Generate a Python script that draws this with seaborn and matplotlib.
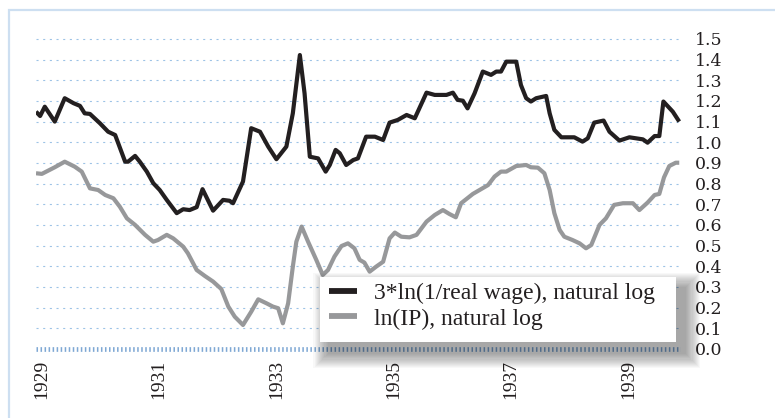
import numpy as np
import pandas as pd
import matplotlib
matplotlib.use("Agg")
import matplotlib.pyplot as plt
import seaborn as sns
from matplotlib.patches import Rectangle

# ---- data ----
wage_t = [1929.00, 1929.07, 1929.15, 1929.32, 1929.49, 1929.64, 1929.75, 1929.83, 1929.92,
          1930.09, 1930.23, 1930.35, 1930.52, 1930.57, 1930.69, 1930.77, 1930.89, 1931.00,
          1931.11, 1931.23, 1931.40, 1931.51, 1931.62, 1931.74, 1931.84, 1932.02, 1932.19,
          1932.30, 1932.36, 1932.53, 1932.67, 1932.82, 1932.96, 1933.10, 1933.27, 1933.38,
          1933.50, 1933.58, 1933.67, 1933.81, 1933.94, 1934.01, 1934.11, 1934.18, 1934.29,
          1934.41, 1934.49, 1934.63, 1934.78, 1934.92, 1935.03, 1935.17, 1935.32, 1935.46,
          1935.66, 1935.80, 1936.00, 1936.11, 1936.19, 1936.28, 1936.36, 1936.48, 1936.62,
          1936.76, 1936.85, 1936.93, 1937.02, 1937.19, 1937.27, 1937.36, 1937.44, 1937.53,
          1937.70, 1937.76, 1937.84, 1937.96, 1938.18, 1938.32, 1938.41, 1938.52, 1938.68,
          1938.78, 1938.95, 1939.12, 1939.35, 1939.43, 1939.55, 1939.63, 1939.70, 1939.86,
          1939.97]
wage_v = [1.148, 1.127, 1.172, 1.100, 1.213, 1.189, 1.176, 1.140, 1.137,
          1.092, 1.051, 1.035, 0.906, 0.906, 0.934, 0.906, 0.858, 0.802,
          0.769, 0.721, 0.657, 0.676, 0.672, 0.686, 0.773, 0.669, 0.721,
          0.717, 0.705, 0.810, 1.068, 1.051, 0.979, 0.918, 0.979, 1.140,
          1.422, 1.237, 0.930, 0.922, 0.858, 0.890, 0.963, 0.947, 0.890,
          0.914, 0.922, 1.027, 1.027, 1.011, 1.095, 1.108, 1.132, 1.116,
          1.240, 1.229, 1.229, 1.240, 1.205, 1.201, 1.164, 1.237, 1.342,
          1.326, 1.342, 1.342, 1.390, 1.390, 1.277, 1.213, 1.197, 1.213,
          1.224, 1.140, 1.060, 1.024, 1.024, 1.003, 1.019, 1.095, 1.105,
          1.051, 1.008, 1.024, 1.014, 0.998, 1.030, 1.030, 1.197, 1.148,
          1.100]

ip_t = [1929.00, 1929.10, 1929.32, 1929.49, 1929.66, 1929.78, 1929.92, 1930.06, 1930.18,
        1930.32, 1930.43, 1930.55, 1930.69, 1930.86, 1931.00, 1931.08, 1931.23, 1931.34,
        1931.51, 1931.59, 1931.74, 1931.88, 1932.02, 1932.16, 1932.28, 1932.39, 1932.53,
        1932.67, 1932.79, 1932.93, 1933.04, 1933.13, 1933.21, 1933.30, 1933.38, 1933.44,
        1933.53, 1933.64, 1933.78, 1933.89, 1933.98, 1934.09, 1934.21, 1934.32, 1934.43,
        1934.52, 1934.60, 1934.69, 1934.80, 1934.92, 1935.03, 1935.12, 1935.23, 1935.37,
        1935.49, 1935.66, 1935.80, 1935.94, 1936.05, 1936.16, 1936.25, 1936.45, 1936.71,
        1936.82, 1936.93, 1937.02, 1937.19, 1937.36, 1937.44, 1937.56, 1937.67, 1937.76,
        1937.84, 1937.93, 1938.01, 1938.15, 1938.27, 1938.38, 1938.47, 1938.61, 1938.72,
        1938.86, 1939.01, 1939.18, 1939.29, 1939.43, 1939.55, 1939.63, 1939.71, 1939.80,
        1939.91, 1939.97]
ip_v = [0.850, 0.847, 0.879, 0.906, 0.882, 0.858, 0.777, 0.769, 0.745,
        0.729, 0.688, 0.632, 0.600, 0.552, 0.519, 0.527, 0.552, 0.535,
        0.495, 0.463, 0.382, 0.353, 0.326, 0.290, 0.205, 0.156, 0.116,
        0.180, 0.240, 0.221, 0.205, 0.197, 0.124, 0.221, 0.398, 0.519,
        0.592, 0.519, 0.431, 0.358, 0.382, 0.447, 0.498, 0.511, 0.487,
        0.431, 0.418, 0.374, 0.398, 0.422, 0.535, 0.563, 0.543, 0.540,
        0.552, 0.616, 0.648, 0.672, 0.653, 0.637, 0.705, 0.750, 0.793,
        0.834, 0.858, 0.858, 0.885, 0.890, 0.879, 0.877, 0.850, 0.769,
        0.657, 0.576, 0.543, 0.527, 0.511, 0.487, 0.503, 0.600, 0.632,
        0.697, 0.705, 0.705, 0.672, 0.708, 0.745, 0.750, 0.830, 0.885,
        0.901, 0.901]

year_ticks = [1929, 1931, 1933, 1935, 1937, 1939]
year_labels = ["1929", "1931", "1933", "1935", "1937", "1939"]
y_ticks = [0.0, 0.1, 0.2, 0.3, 0.4, 0.5, 0.6, 0.7, 0.8, 0.9, 1.0, 1.1, 1.2, 1.3, 1.4, 1.5]
y_labels = [f"{v:.1f}" for v in y_ticks]
series_labels = ["3*ln(1/real wage), natural log", "ln(IP), natural log"]

# ---- style ----
sns.set_theme(style="white")
plt.rcParams["font.family"] = ["Liberation Serif", "DejaVu Serif"]
plt.rcParams["lines.scale_dashes"] = False

W, H = 775, 418
fig = plt.figure(figsize=(W / 100, H / 100), dpi=100)
fig.patch.set_facecolor("white")
ax = fig.add_axes([36 / W, 0.1553, 645 / W, 0.7615])
ax.set_facecolor("none")

# outer light-blue frame (cut by the figure edges)
fig.add_artist(Rectangle((8.5 / W, -0.2), 1.5, (1 - 9.5 / H) + 0.2, transform=fig.transFigure,
                         fill=False, edgecolor="#cddff1", lw=1.6, clip_on=False))

# grid lines
grid_col = "#9dc3e6"
for v in y_ticks[1:]:
    ax.axhline(v, color=grid_col, lw=0.8, linestyle=(0, (1.5, 3.3)), zorder=1)
ax.axhline(y_ticks[0], color="#7fa8d4", lw=3.4, linestyle=(0, (1.1, 1.8)), zorder=1)

df_w = pd.DataFrame({"t": wage_t, "v": wage_v})
df_ip = pd.DataFrame({"t": ip_t, "v": ip_v})
sns.lineplot(data=df_w, x="t", y="v", ax=ax, color="#231f20", lw=3.0, sort=False,
             estimator=None, label=series_labels[0], zorder=3, solid_joinstyle="round",
             solid_capstyle="butt")
sns.lineplot(data=df_ip, x="t", y="v", ax=ax, color="#97989a", lw=3.0, sort=False,
             estimator=None, label=series_labels[1], zorder=3, solid_joinstyle="round",
             solid_capstyle="butt")

ax.set_xlim(1929.0, 1940.0)
ax.set_ylim(-0.02, 1.52)
for s in ax.spines.values():
    s.set_visible(False)
ax.set_xlabel("")
ax.set_ylabel("")

ax.yaxis.tick_right()
ax.set_yticks(y_ticks)
ax.set_yticklabels(y_labels)
ax.tick_params(axis="y", length=0, pad=10, labelsize=12.5, labelcolor="#231f20")
ax.set_xticks([y + 0.1 for y in year_ticks])
ax.set_xticklabels(year_labels, rotation=90)
ax.tick_params(axis="x", length=0, pad=5, labelsize=14, labelcolor="#231f20")
for lab in ax.get_yticklabels():
    lab.set_fontfamily(["DejaVu Serif"])

# legend box with soft shadow
x0, y0, x1, y1 = 0.440, 0.035, 0.992, 0.239
pxx, pxy = 645.0, 318.3
for k in range(14, 0, -1):
    e = k * 1.1
    ax.add_patch(Rectangle((x0 + (9 - e) / pxx, y0 - (11 + e) / pxy),
                           (x1 - x0) + 2 * e / pxx, (y1 - y0) + 2 * e / pxy,
                           transform=ax.transAxes, facecolor="#000000", edgecolor="none",
                           alpha=0.026, zorder=4, clip_on=False))
ax.add_patch(Rectangle((x0, y0), x1 - x0, y1 - y0, transform=ax.transAxes,
                       facecolor="white", edgecolor="none", zorder=4.5, clip_on=False))
leg = ax.legend(loc="upper left", bbox_to_anchor=(x0 + 3 / pxx, y1 - 0 / pxy), frameon=False,
                fontsize=17, handlelength=1.2, handletextpad=0.72, labelspacing=0.15,
                borderpad=0.25, borderaxespad=0)
leg.set_zorder(5)
for h in leg.get_lines():
    h.set_linewidth(4.2)
for t in leg.get_texts():
    t.set_color("#231f20")

fig.savefig("out.png", dpi=100)
